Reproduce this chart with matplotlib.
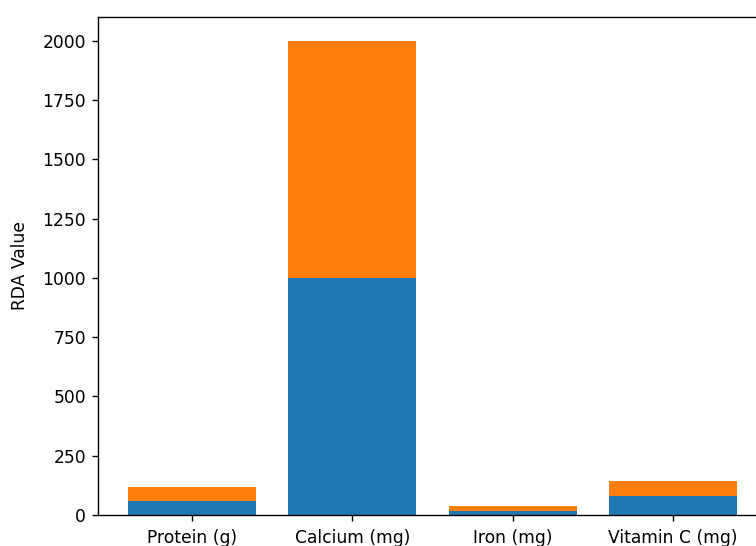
import matplotlib
matplotlib.use('Agg')
import matplotlib.pyplot as plt

nutrients = ['Protein (g)', 'Calcium (mg)', 'Iron (mg)', 'Vitamin C (mg)']
rda_first = [60, 1000, 18, 82]
rda_second = [57, 1000, 18, 63]

# reference looks like a slightly enlarged render, so scale text and lines up
s = 1.23
plt.rcParams['font.size'] = 10 * s
plt.rcParams['axes.linewidth'] = 0.8 * s
plt.rcParams['xtick.major.size'] = 3.5 * s
plt.rcParams['ytick.major.size'] = 3.5 * s
plt.rcParams['xtick.major.width'] = 0.8 * s
plt.rcParams['ytick.major.width'] = 0.8 * s
plt.rcParams['xtick.major.pad'] = 4.5 * s
plt.rcParams['ytick.major.pad'] = 3.5 * s

fig = plt.figure(figsize=(7.56, 5.46), dpi=100)
ax = fig.add_axes([98 / 756, 31 / 546, 669 / 756, 498 / 546])

ax.bar(nutrients, rda_first, color='#1f77b4')
ax.bar(nutrients, rda_second, bottom=rda_first, color='#ff7f0e')
ax.set_ylabel('RDA Value', labelpad=10)

fig.savefig('out.png', dpi=100)
